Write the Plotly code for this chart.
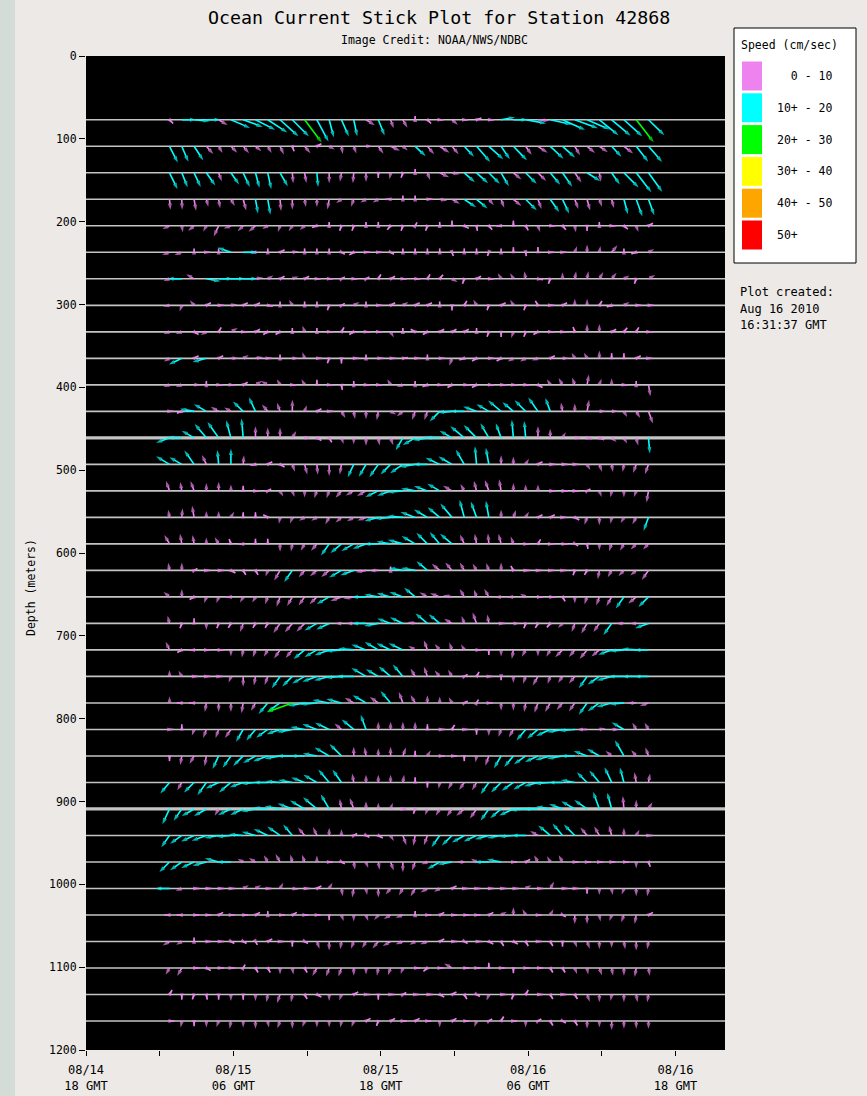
import math
import plotly.graph_objects as go

# ---------------- data ----------------
title_text = "Ocean Current Stick Plot for Station 42868"
credit_text = "Image Credit: NOAA/NWS/NDBC"
created_lines = ["Plot created:", "Aug 16 2010", "16:31:37 GMT"]

# hours after 08/14 18 GMT of each hourly observation
obs_hours = [6.8, 7.8, 8.8, 9.8, 10.8, 11.8, 12.8, 13.8, 14.8, 15.8,
             16.8, 17.8, 18.8, 19.8, 20.8, 21.8, 22.8, 23.8, 24.8, 25.8,
             26.8, 27.8, 28.8, 29.8, 30.8, 31.8, 32.8, 33.8, 34.8, 35.8,
             36.8, 37.8, 38.8, 39.8, 40.8, 41.8, 42.8, 43.8, 44.8, 45.8]

x_tick_hours = [0, 12, 24, 36, 48]
x_tick_labels = ["08/14<br>18 GMT", "08/15<br>06 GMT", "08/15<br>18 GMT",
                 "08/16<br>06 GMT", "08/16<br>18 GMT"]
x_minor_hours = [6, 18, 30, 42]
y_ticks = [0, 100, 200, 300, 400, 500, 600, 700, 800, 900, 1000, 1100, 1200]

depths = [77, 109, 141, 173, 205, 237, 269, 301, 333, 365, 397, 429, 461,
          493, 525, 557, 589, 621, 653, 685, 717, 749, 781, 813, 845, 877,
          909, 941, 973, 1005, 1037, 1069, 1101, 1133, 1165]

# each token: direction toward (deg, 0 = north) / speed (cm/sec)
row_077 = ("135/4 90/11 95/12 90/11 120/8 113/16 110/16 117/17 123/18 132/19 "
           "135/18 143/22 152/19 165/14 156/14 168/13 122/8 158/13 160/7 150/7 "
           "0/3 135/4 90/3 130/6 90/3 70/4 90/4 80/11 90/11 100/16 "
           "95/9 102/17 114/19 110/19 113/19 129/19 130/19 132/19 142/22 134/17")
row_109 = ("153/14 157/13 147/13 138/8 150/6 135/7 140/7 130/6 150/6 155/7 "
           "160/4 140/7 60/4 120/5 170/6 160/6 90/5 145/7 115/8 130/5 "
           "133/11 140/8 123/9 140/8 137/11 139/16 132/15 146/12 136/15 145/8 "
           "124/9 133/14 132/13 150/8 130/8 125/8 137/11 128/9 142/15 139/16")
row_141 = ("154/14 158/12 155/12 145/12 160/7 145/11 155/12 165/12 168/13 150/12 "
           "175/8 170/8 175/11 180/8 190/7 185/8 180/7 180/4 190/5 200/4 "
           "0/3 160/6 115/8 100/6 132/11 132/12 135/12 150/12 130/8 135/12 "
           "135/9 140/12 145/13 145/9 122/12 170/7 145/11 135/16 142/19 144/18")
row_173 = ("175/8 178/8 170/9 165/6 170/7 150/6 165/9 170/11 170/12 175/9 "
           "180/8 170/6 180/6 190/8 235/5 200/6 240/5 240/5 270/4 0/3 "
           "0/3 90/4 100/6 120/7 124/11 130/11 140/6 160/7 130/8 135/12 "
           "160/8 145/12 155/12 160/8 165/9 160/6 165/7 165/12 160/14 160/13")
row_205 = ("245/6 170/5 230/6 210/5 205/9 250/6 225/6 230/7 240/5 200/5 "
           "215/5 230/5 250/4 0/3 200/4 200/4 0/3 0/3 220/4 200/4 "
           "30/3 200/4 0/3 0/4 120/4 170/4 140/4 270/4 0/4 150/4 "
           "160/5 90/4 140/4 170/5 180/4 0/3 90/3 130/4 160/5 60/4")
row_237 = ("250/6 250/6 0/3 90/3 0/3 290/11 90/11 270/4 0/3 60/4 "
           "80/5 0/3 0/3 0/3 120/3 240/4 90/3 90/3 120/3 0/3 "
           "0/3 0/3 0/3 160/3 0/3 0/3 200/3 0/3 0/4 170/3 "
           "0/4 90/3 90/3 20/5 0/6 10/5 40/7 0/3 250/4 60/5")
row_269 = ("250/5 270/11 300/7 100/11 90/11 90/11 90/11 80/6 60/5 60/4 "
           "70/5 60/4 90/3 90/3 60/3 90/3 60/3 30/4 60/4 90/3 "
           "90/4 30/4 40/4 120/5 200/4 60/4 90/4 330/5 330/5 350/6 "
           "100/4 200/4 0/5 10/6 10/6 30/6 40/6 60/5 200/4 60/6")
row_301 = ("260/5 200/5 320/5 60/4 90/4 80/5 60/4 60/4 100/4 0/3 "
           "330/5 0/3 0/3 200/4 60/3 60/5 0/3 90/3 60/4 60/5 "
           "60/4 60/4 0/3 180/4 30/4 330/5 200/4 60/4 330/5 200/4 "
           "330/4 90/3 60/4 0/5 0/5 30/4 250/4 60/5 90/4 90/4")
row_333 = ("250/5 250/5 120/4 240/5 30/4 60/6 90/3 60/4 240/4 240/4 "
           "0/3 340/5 0/3 90/3 30/4 240/4 90/3 90/3 150/5 0/3 "
           "300/4 240/4 60/4 60/4 60/4 0/3 200/4 180/4 200/5 200/4 "
           "240/4 90/3 90/3 340/4 0/6 0/6 60/4 40/4 30/4 90/3")
row_365 = ("240/5 245/11 60/4 255/11 60/4 90/6 60/5 80/6 90/3 0/3 "
           "90/5 340/5 90/4 200/4 180/4 90/4 0/3 90/4 90/4 80/4 "
           "90/4 0/3 90/4 200/6 250/4 240/4 90/4 240/4 240/5 240/5 "
           "250/5 60/4 90/5 330/5 330/5 0/6 0/4 0/4 60/4 90/3")
row_397 = ("250/5 250/5 90/5 0/3 90/3 90/3 60/4 60/6 300/6 330/5 "
           "90/3 330/5 0/4 90/3 170/4 0/3 90/3 90/3 330/5 250/5 "
           "0/3 250/4 90/3 240/4 90/4 240/4 90/4 90/4 90/3 90/3 "
           "120/4 330/5 330/6 340/6 10/8 20/5 0/5 90/3 0/3 170/9")
row_429 = ("90/3 250/4 280/11 300/11 300/7 300/6 314/11 335/12 320/7 340/7 "
           "0/9 20/5 60/4 90/3 150/6 170/6 180/6 190/7 120/5 230/6 "
           "200/7 200/7 225/11 265/11 270/11 290/11 300/11 310/13 310/11 315/12 "
           "325/13 340/11 350/7 0/6 10/9 90/5 90/5 150/5 150/6 160/10")
row_461 = ("250/11 270/11 300/11 320/14 325/15 345/14 355/15 0/9 0/8 0/8 "
           "30/6 90/5 120/4 150/4 160/5 180/5 180/6 170/6 160/6 210/11 "
           "240/11 260/11 270/11 300/11 310/14 315/14 330/13 340/12 355/14 355/13 "
           "0/9 0/7 30/5 90/5 100/4 110/4 130/5 150/5 165/6 175/12")
row_493 = ("301/12 300/11 325/13 335/8 355/11 0/12 5/7 260/4 60/4 120/4 "
           "160/6 165/8 175/8 180/9 190/8 205/11 210/11 215/12 225/11 235/12 "
           "260/12 270/11 295/12 300/12 330/13 355/14 350/13 0/7 0/6 30/5 "
           "60/4 90/4 90/4 90/3 150/5 160/6 170/6 190/6 200/7 200/8")
row_525 = ("340/8 350/7 340/8 0/6 0/7 0/5 0/4 90/3 60/3 150/5 "
           "160/5 180/5 200/6 200/6 220/7 240/7 240/8 245/11 250/11 265/12 "
           "280/11 290/11 300/11 300/8 330/6 345/8 340/9 350/9 0/6 0/5 "
           "0/5 90/4 90/4 90/3 60/3 160/5 190/5 180/5 200/5 190/9")
row_557 = ("350/6 5/7 350/9 0/5 0/5 30/5 0/4 0/4 300/4 190/5 "
           "200/5 240/5 240/5 210/6 230/6 240/6 250/7 255/11 265/12 275/12 "
           "290/12 300/12 310/12 320/14 345/14 340/13 350/13 0/6 20/6 30/5 "
           "60/4 60/4 90/3 120/4 200/6 180/6 190/5 210/5 210/6 200/11")
row_589 = ("330/8 350/8 350/7 0/5 330/6 340/4 270/4 0/4 0/4 180/6 "
           "190/6 210/6 220/7 215/11 230/11 240/11 250/11 270/11 280/11 285/12 "
           "300/12 315/12 320/12 310/12 335/8 350/8 355/8 345/8 340/6 90/3 "
           "30/4 90/3 90/4 120/3 170/4 180/5 200/6 210/6 225/6 225/6")
row_621 = ("350/6 0/6 60/3 90/3 90/4 120/4 150/4 150/4 200/5 210/9 "
           "215/11 220/7 230/7 230/8 240/11 250/11 260/8 270/7 0/3 280/11 "
           "280/11 310/11 310/8 320/8 330/7 330/6 340/6 0/6 330/4 90/3 "
           "90/3 90/3 90/3 200/4 210/4 190/7 210/6 225/6 230/6 215/9")
row_653 = ("310/6 0/6 240/4 200/5 200/5 270/4 210/5 210/5 200/6 200/8 "
           "210/8 215/8 225/8 240/11 250/9 260/8 270/11 280/11 285/11 290/11 "
           "310/11 300/7 290/8 280/7 330/7 340/6 330/7 270/5 270/5 300/5 "
           "90/4 90/4 150/4 180/5 200/6 200/7 210/8 215/11 230/8 225/11")
row_685 = ("345/6 200/4 0/4 180/5 200/4 210/4 200/7 210/4 210/4 215/9 "
           "220/9 225/9 240/11 245/11 270/5 270/6 270/11 260/11 290/11 295/11 "
           "280/6 310/12 310/11 300/7 340/6 340/9 350/7 90/3 90/5 200/4 "
           "210/4 220/4 225/5 200/7 210/9 215/8 215/11 270/6 270/5 250/11")
row_717 = ("335/7 240/4 270/4 90/3 90/4 180/5 190/6 200/6 210/6 215/8 "
           "220/8 230/11 240/11 250/12 265/12 275/12 290/12 300/12 295/12 295/12 "
           "300/6 340/8 320/6 340/6 330/5 90/4 180/4 180/5 190/7 210/6 "
           "180/5 210/6 225/8 220/7 220/9 230/8 250/11 265/11 275/11 270/11")
row_749 = ("0/5 330/5 90/3 90/3 90/3 200/5 180/8 190/7 200/7 215/11 "
           "225/11 240/11 250/12 255/12 265/12 270/13 300/13 300/11 310/12 320/12 "
           "330/7 340/8 320/6 330/6 60/3 30/4 90/3 180/3 180/5 200/6 "
           "210/8 200/6 215/6 220/7 215/11 235/11 255/12 270/12 270/11 270/11")
row_781 = ("0/5 270/4 270/4 190/7 180/7 180/7 190/8 210/7 220/11 235/12 "
           "250/21 260/13 265/13 280/13 285/12 300/8 300/12 305/8 320/12 340/9 "
           "330/7 0/6 0/5 330/5 60/3 30/3 90/3 180/6 180/6 190/7 "
           "200/8 210/8 220/7 215/8 215/11 235/11 255/12 265/11 270/7 250/7")
row_813 = ("90/3 0/4 200/5 200/7 200/7 215/8 210/11 220/11 235/11 250/11 "
           "260/12 280/11 290/12 295/12 310/7 310/12 340/12 0/6 0/6 0/6 "
           "0/6 0/4 90/4 30/4 90/3 180/4 180/5 200/6 210/7 220/11 "
           "230/11 245/12 260/12 265/12 270/8 80/5 90/6 300/11 330/6 330/6")
row_845 = ("180/4 190/7 210/7 190/8 205/11 215/11 225/11 240/11 250/12 260/12 "
           "270/12 270/11 280/11 300/13 315/13 0/7 350/7 0/6 0/7 20/7 "
           "0/4 30/5 90/4 90/4 180/4 190/5 200/8 210/11 220/11 235/11 "
           "245/11 255/12 260/12 270/11 290/11 300/11 310/6 330/14 320/6 340/7")
row_877 = ("220/11 210/7 225/11 215/12 245/11 230/12 250/11 265/11 270/11 275/11 "
           "280/11 290/11 300/12 320/13 325/12 350/7 0/6 0/6 0/6 10/6 "
           "0/4 180/4 190/5 210/6 215/7 210/7 215/11 225/11 235/11 240/11 "
           "255/11 265/12 270/11 280/11 315/11 320/12 335/13 345/12 350/8 10/7")
row_909 = ("205/13 215/11 240/11 240/11 210/6 245/11 245/11 260/11 275/11 280/12 "
           "290/12 300/13 310/14 330/13 350/8 340/9 0/6 0/5 20/5 90/3 "
           "200/4 200/5 210/6 215/7 230/8 215/9 215/11 230/11 245/12 265/12 "
           "270/11 280/11 290/11 300/12 305/12 340/14 345/13 355/10 0/7 30/6")
row_941 = ("215/11 235/11 245/11 250/12 260/11 265/11 275/11 285/11 295/12 305/12 "
           "320/11 320/8 335/7 0/6 0/5 60/3 120/3 120/4 150/5 160/8 "
           "190/8 200/8 215/11 225/11 240/11 245/11 255/11 260/11 265/11 270/11 "
           "300/7 310/12 320/12 315/12 320/8 330/8 345/8 0/6 30/5 90/3")
row_973 = ("225/11 235/11 245/11 255/11 285/11 270/11 300/5 300/6 330/6 330/7 "
           "345/6 340/6 0/5 90/3 120/3 170/6 160/5 170/6 160/7 180/8 "
           "200/7 250/5 240/11 260/11 270/6 300/5 270/11 280/11 90/3 60/4 "
           "330/6 330/5 330/6 90/3 90/3 90/3 90/3 90/4 180/5 160/4")
row_1005 = ("270/11 250/5 90/4 90/4 90/4 90/3 60/5 60/5 90/3 30/5 "
            "100/5 90/4 60/4 30/5 170/6 190/7 170/5 180/7 220/6 210/6 "
            "210/7 240/6 240/5 60/4 90/3 90/3 90/4 90/4 90/4 60/5 "
            "90/4 30/6 90/4 90/3 180/4 180/5 170/5 200/5 180/6 190/6")
row_1037 = ("270/4 270/4 90/4 90/4 60/4 90/3 90/4 60/4 0/3 90/4 "
            "60/4 90/3 90/3 180/4 160/5 180/5 160/5 220/5 240/6 250/6 "
            "0/3 90/3 60/4 90/4 90/4 90/3 60/4 60/5 0/6 330/5 "
            "90/3 30/5 120/3 180/7 180/7 170/5 200/5 200/6 190/7 60/4")
row_1069 = ("240/6 240/5 0/3 90/4 90/4 120/3 120/3 150/3 60/4 90/3 "
            "180/4 120/3 160/6 180/7 190/6 200/6 210/6 220/7 240/7 250/6 "
            "240/5 250/6 60/4 90/4 120/3 90/4 120/4 150/4 120/4 150/4 "
            "90/3 150/4 180/4 160/5 160/6 180/6 180/5 170/6 180/7 190/6")
row_1101 = ("210/6 210/7 90/4 120/4 90/4 90/3 30/3 150/4 150/4 180/5 "
            "170/5 150/4 210/7 200/7 200/7 180/6 180/5 190/6 200/6 200/5 "
            "90/4 230/4 90/3 300/7 90/4 90/3 0/4 90/3 180/4 90/3 "
            "90/4 150/4 150/4 160/5 170/5 160/6 170/6 180/6 190/7 170/6")
row_1133 = ("30/4 180/4 200/4 170/4 180/4 180/5 180/4 180/5 190/6 200/7 "
            "190/6 150/4 120/4 180/5 200/5 60/4 90/3 180/4 90/3 60/3 "
            "90/3 90/4 120/4 60/4 150/4 120/3 200/5 90/4 200/4 30/4 "
            "90/4 150/4 90/3 150/4 160/6 180/6 190/5 180/6 170/6 190/6")
row_1165 = ("90/4 190/5 180/4 180/5 200/5 190/6 180/5 180/6 170/5 200/6 "
            "180/6 200/5 180/5 180/5 190/5 200/5 60/4 200/4 60/4 90/3 "
            "60/4 90/3 180/5 60/4 90/4 200/5 60/3 30/4 90/3 180/5 "
            "60/3 150/4 120/3 150/4 180/6 180/5 180/7 180/6 180/6 180/6")

rows = [row_077, row_109, row_141, row_173, row_205, row_237, row_269, row_301,
        row_333, row_365, row_397, row_429, row_461, row_493, row_525, row_557,
        row_589, row_621, row_653, row_685, row_717, row_749, row_781, row_813,
        row_845, row_877, row_909, row_941, row_973, row_1005, row_1037,
        row_1069, row_1101, row_1133, row_1165]

bin_labels = ["\u00a0\u00a00 - 10", "10+ - 20", "20+ - 30", "30+ - 40", "40+ - 50", "50+"]
bin_upper = [10, 20, 30, 40, 50, 1e9]

# ---------------- styles / geometry ----------------
W, H = 867, 1096
PL, PR, PT, PB = 86, 725, 56, 1050          # plot area in px
X_MAX = 52.03
Y_MAX = 1200
bin_colors = ["#ee82ee", "#00ffff", "#00ff00", "#ffff00", "#ffa500", "#ff0000"]
thick_depths = [461, 909]
PX_PER_CM_S = 1.3
FONT = "DejaVu Sans Mono"

px_per_hour = (PR - PL) / X_MAX
px_per_m = (PB - PT) / Y_MAX


def px2x(px):
    return (px - PL) / (PR - PL)


def px2y(py):
    return 1 - (py - PT) / (PB - PT)


fig = go.Figure()

# row reference lines
for thick in (False, True):
    xs, ys = [], []
    for d in depths:
        if (d in thick_depths) != thick:
            continue
        xs += [0, X_MAX, None]
        ys += [d, d, None]
    fig.add_trace(go.Scatter(x=xs, y=ys, mode="lines", hoverinfo="skip",
                             line=dict(color="#c4c4c4", width=3.2 if thick else 1.6),
                             showlegend=False))

# sticks grouped by speed bin
groups = {i: ([], [], []) for i in range(len(bin_colors))}
for d, row in zip(depths, rows):
    tokens = row.split()
    for t, tok in zip(obs_hours, tokens):
        ang, spd = tok.split("/")
        ang = math.radians(float(ang))
        spd = float(spd)
        L = spd * PX_PER_CM_S
        x1 = t + L * math.sin(ang) / px_per_hour
        y1 = d - L * math.cos(ang) / px_per_m
        b = next(i for i, u in enumerate(bin_upper) if spd <= u)
        gx, gy, gs = groups[b]
        gx += [t, x1, None]
        gy += [d, y1, None]
        gs += [0, 6.5, 0]

for b, (gx, gy, gs) in groups.items():
    if not gx:
        continue
    fig.add_trace(go.Scatter(
        x=gx, y=gy, mode="lines+markers", hoverinfo="skip", showlegend=False,
        line=dict(color=bin_colors[b], width=1.6),
        marker=dict(symbol="arrow", angleref="previous", size=gs,
                    color=bin_colors[b], line=dict(width=0))))

shapes = []
annotations = []

# left strip of the screenshot
shapes.append(dict(type="rect", xref="paper", yref="paper",
                   x0=px2x(0), x1=px2x(15), y0=px2y(0), y1=px2y(H),
                   fillcolor="#d4dcd8", line=dict(width=0), layer="below"))

# legend box
shapes.append(dict(type="rect", xref="paper", yref="paper",
                   x0=px2x(734), x1=px2x(856), y0=px2y(28), y1=px2y(263),
                   fillcolor="white", line=dict(color="black", width=1)))
annotations.append(dict(text="Speed (cm/sec)", xref="paper", yref="paper",
                        x=px2x(739), y=px2y(45), xanchor="left", yanchor="middle",
                        showarrow=False, font=dict(family=FONT, size=11.5, color="black")))
for i, (lab, col) in enumerate(zip(bin_labels, bin_colors)):
    cy = 76 + i * 31.8
    shapes.append(dict(type="rect", xref="paper", yref="paper",
                       x0=px2x(742), x1=px2x(762), y0=px2y(cy - 14.5), y1=px2y(cy + 14.5),
                       fillcolor=col, line=dict(width=0)))
    annotations.append(dict(text=lab, xref="paper", yref="paper",
                            x=px2x(775), y=px2y(cy), xanchor="left", yanchor="middle",
                            showarrow=False, font=dict(family=FONT, size=11.5, color="black")))

for i, line in enumerate(created_lines):
    annotations.append(dict(text=line, xref="paper", yref="paper",
                            x=px2x(738), y=px2y(292 + i * 16.5), xanchor="left",
                            yanchor="middle", showarrow=False,
                            font=dict(family=FONT, size=12, color="black")))

annotations.append(dict(text=title_text, xref="paper", yref="paper",
                        x=px2x(439), y=px2y(17), xanchor="center", yanchor="middle",
                        showarrow=False, font=dict(family=FONT, size=18.3, color="black")))
annotations.append(dict(text=credit_text, xref="paper", yref="paper",
                        x=px2x(434), y=px2y(40), xanchor="center", yanchor="middle",
                        showarrow=False, font=dict(family=FONT, size=11.5, color="black")))
annotations.append(dict(text="Depth (meters)", xref="paper", yref="paper",
                        x=px2x(31), y=px2y(588), xanchor="center", yanchor="middle",
                        textangle=-90, showarrow=False,
                        font=dict(family=FONT, size=11.5, color="black")))

fig.update_layout(
    width=W, height=H, autosize=False,
    margin=dict(l=PL, r=W - PR, t=PT, b=H - PB, pad=0, autoexpand=False),
    paper_bgcolor="#ece9e6", plot_bgcolor="black",
    shapes=shapes, annotations=annotations,
    showlegend=False,
    xaxis=dict(range=[0, X_MAX], tickmode="array", tickvals=x_tick_hours,
               ticktext=x_tick_labels, ticks="outside", ticklen=5,
               tickcolor="black", tickwidth=1, showgrid=False, zeroline=False,
               showline=False, ticklabelstandoff=4, automargin=False,
               tickfont=dict(family=FONT, size=12, color="black"),
               minor=dict(tickmode="array", tickvals=x_minor_hours, ticks="outside",
                          ticklen=5, tickcolor="black", showgrid=False)),
    yaxis=dict(range=[Y_MAX, 0], tickmode="array", tickvals=y_ticks,
               ticks="outside", ticklen=6, tickcolor="black", tickwidth=1,
               showgrid=False, zeroline=False, showline=False, automargin=False,
               tickfont=dict(family=FONT, size=11.5, color="black")),
)

fig.write_html("out.html",
               config={"responsive": False, "displayModeBar": False},
               post_script="document.body.style.margin='0px';")
